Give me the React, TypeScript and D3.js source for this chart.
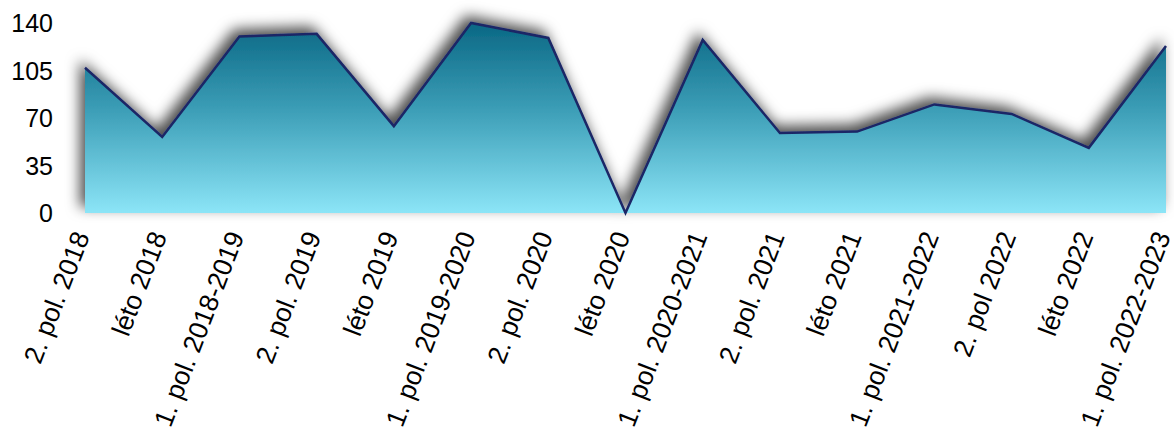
import * as React from 'react';
import * as d3 from 'd3';

const CATEGORIES = [
  '2. pol. 2018',
  'léto 2018',
  '1. pol. 2018-2019',
  '2. pol. 2019',
  'léto 2019',
  '1. pol. 2019-2020',
  '2. pol. 2020',
  'léto 2020',
  '1. pol. 2020-2021',
  '2. pol. 2021',
  'léto 2021',
  '1. pol. 2021-2022',
  '2. pol 2022',
  'léto 2022',
  '1. pol. 2022-2023'
];

const VALUES = [107, 56, 130, 132, 64, 140, 129, 0, 127.5, 59, 60, 80, 73, 48, 123];

const Y_TICKS = [0, 35, 70, 105, 140];

const WIDTH = 1174;
const HEIGHT = 428;
const FONT = '"Liberation Sans", Arial, Helvetica, sans-serif';

export default function App() {
  const svgRef = React.useRef<SVGSVGElement>(null);

  React.useEffect(() => {
    const svg = d3.select(svgRef.current);
    svg.selectAll('*').remove();

    /** ******** Scales ********* */
    const xScale = d3.scalePoint<string>().domain(CATEGORIES).range([85, 1166]);
    const yScale = d3.scaleLinear().domain([0, 140]).range([213, 23]);

    /** ******** Defs ********* */
    const defs = svg.append('defs');
    const grad = defs
      .append('linearGradient')
      .attr('id', 'areaFill')
      .attr('gradientUnits', 'userSpaceOnUse')
      .attr('x1', 0)
      .attr('x2', 0)
      .attr('y1', yScale(140))
      .attr('y2', yScale(0));
    grad.append('stop').attr('offset', '0%').attr('stop-color', '#0a6784');
    grad.append('stop').attr('offset', '45%').attr('stop-color', '#3b9db6');
    grad.append('stop').attr('offset', '100%').attr('stop-color', '#8ce5f7');

    const filter = defs
      .append('filter')
      .attr('id', 'shadow')
      .attr('x', '-10%')
      .attr('y', '-30%')
      .attr('width', '120%')
      .attr('height', '160%');
    filter
      .append('feDropShadow')
      .attr('dx', -5)
      .attr('dy', -6)
      .attr('stdDeviation', 7)
      .attr('flood-color', '#000')
      .attr('flood-opacity', 0.7);

    /** ******** Area + line ********* */
    const data = CATEGORIES.map((c, i) => ({ c, v: VALUES[i] }));
    const area = d3
      .area<{ c: string; v: number }>()
      .x((d) => xScale(d.c)!)
      .y0(yScale(0))
      .y1((d) => yScale(d.v));
    const line = d3
      .line<{ c: string; v: number }>()
      .x((d) => xScale(d.c)!)
      .y((d) => yScale(d.v));

    const series = svg.append('g').attr('filter', 'url(#shadow)');
    series.append('path').datum(data).attr('d', area).attr('fill', 'url(#areaFill)');
    series
      .append('path')
      .datum(data)
      .attr('d', line)
      .attr('fill', 'none')
      .attr('stroke', '#1a2766')
      .attr('stroke-width', 2.5)
      .attr('stroke-linejoin', 'miter');

    /** ******** Y labels ********* */
    svg
      .append('g')
      .selectAll('text')
      .data(Y_TICKS)
      .enter()
      .append('text')
      .attr('x', 53)
      .attr('y', (d) => yScale(d))
      .attr('dy', '0.36em')
      .attr('text-anchor', 'end')
      .attr('font-family', FONT)
      .attr('font-size', 25)
      .attr('fill', '#000')
      .text((d) => d);

    /** ******** X labels ********* */
    svg
      .append('g')
      .selectAll('text')
      .data(CATEGORIES)
      .enter()
      .append('text')
      .attr('transform', (d) => `translate(${xScale(d)! + 5},236) rotate(-69)`)
      .attr('text-anchor', 'end')
      .attr('font-family', FONT)
      .attr('font-size', 26.5)
      .attr('fill', '#000')
      .text((d) => d);
  }, []);

  return (
    <svg
      ref={svgRef}
      width={WIDTH}
      height={HEIGHT}
      style={{ position: 'absolute', left: 0, top: 0, background: '#fff' }}
    />
  );
}
